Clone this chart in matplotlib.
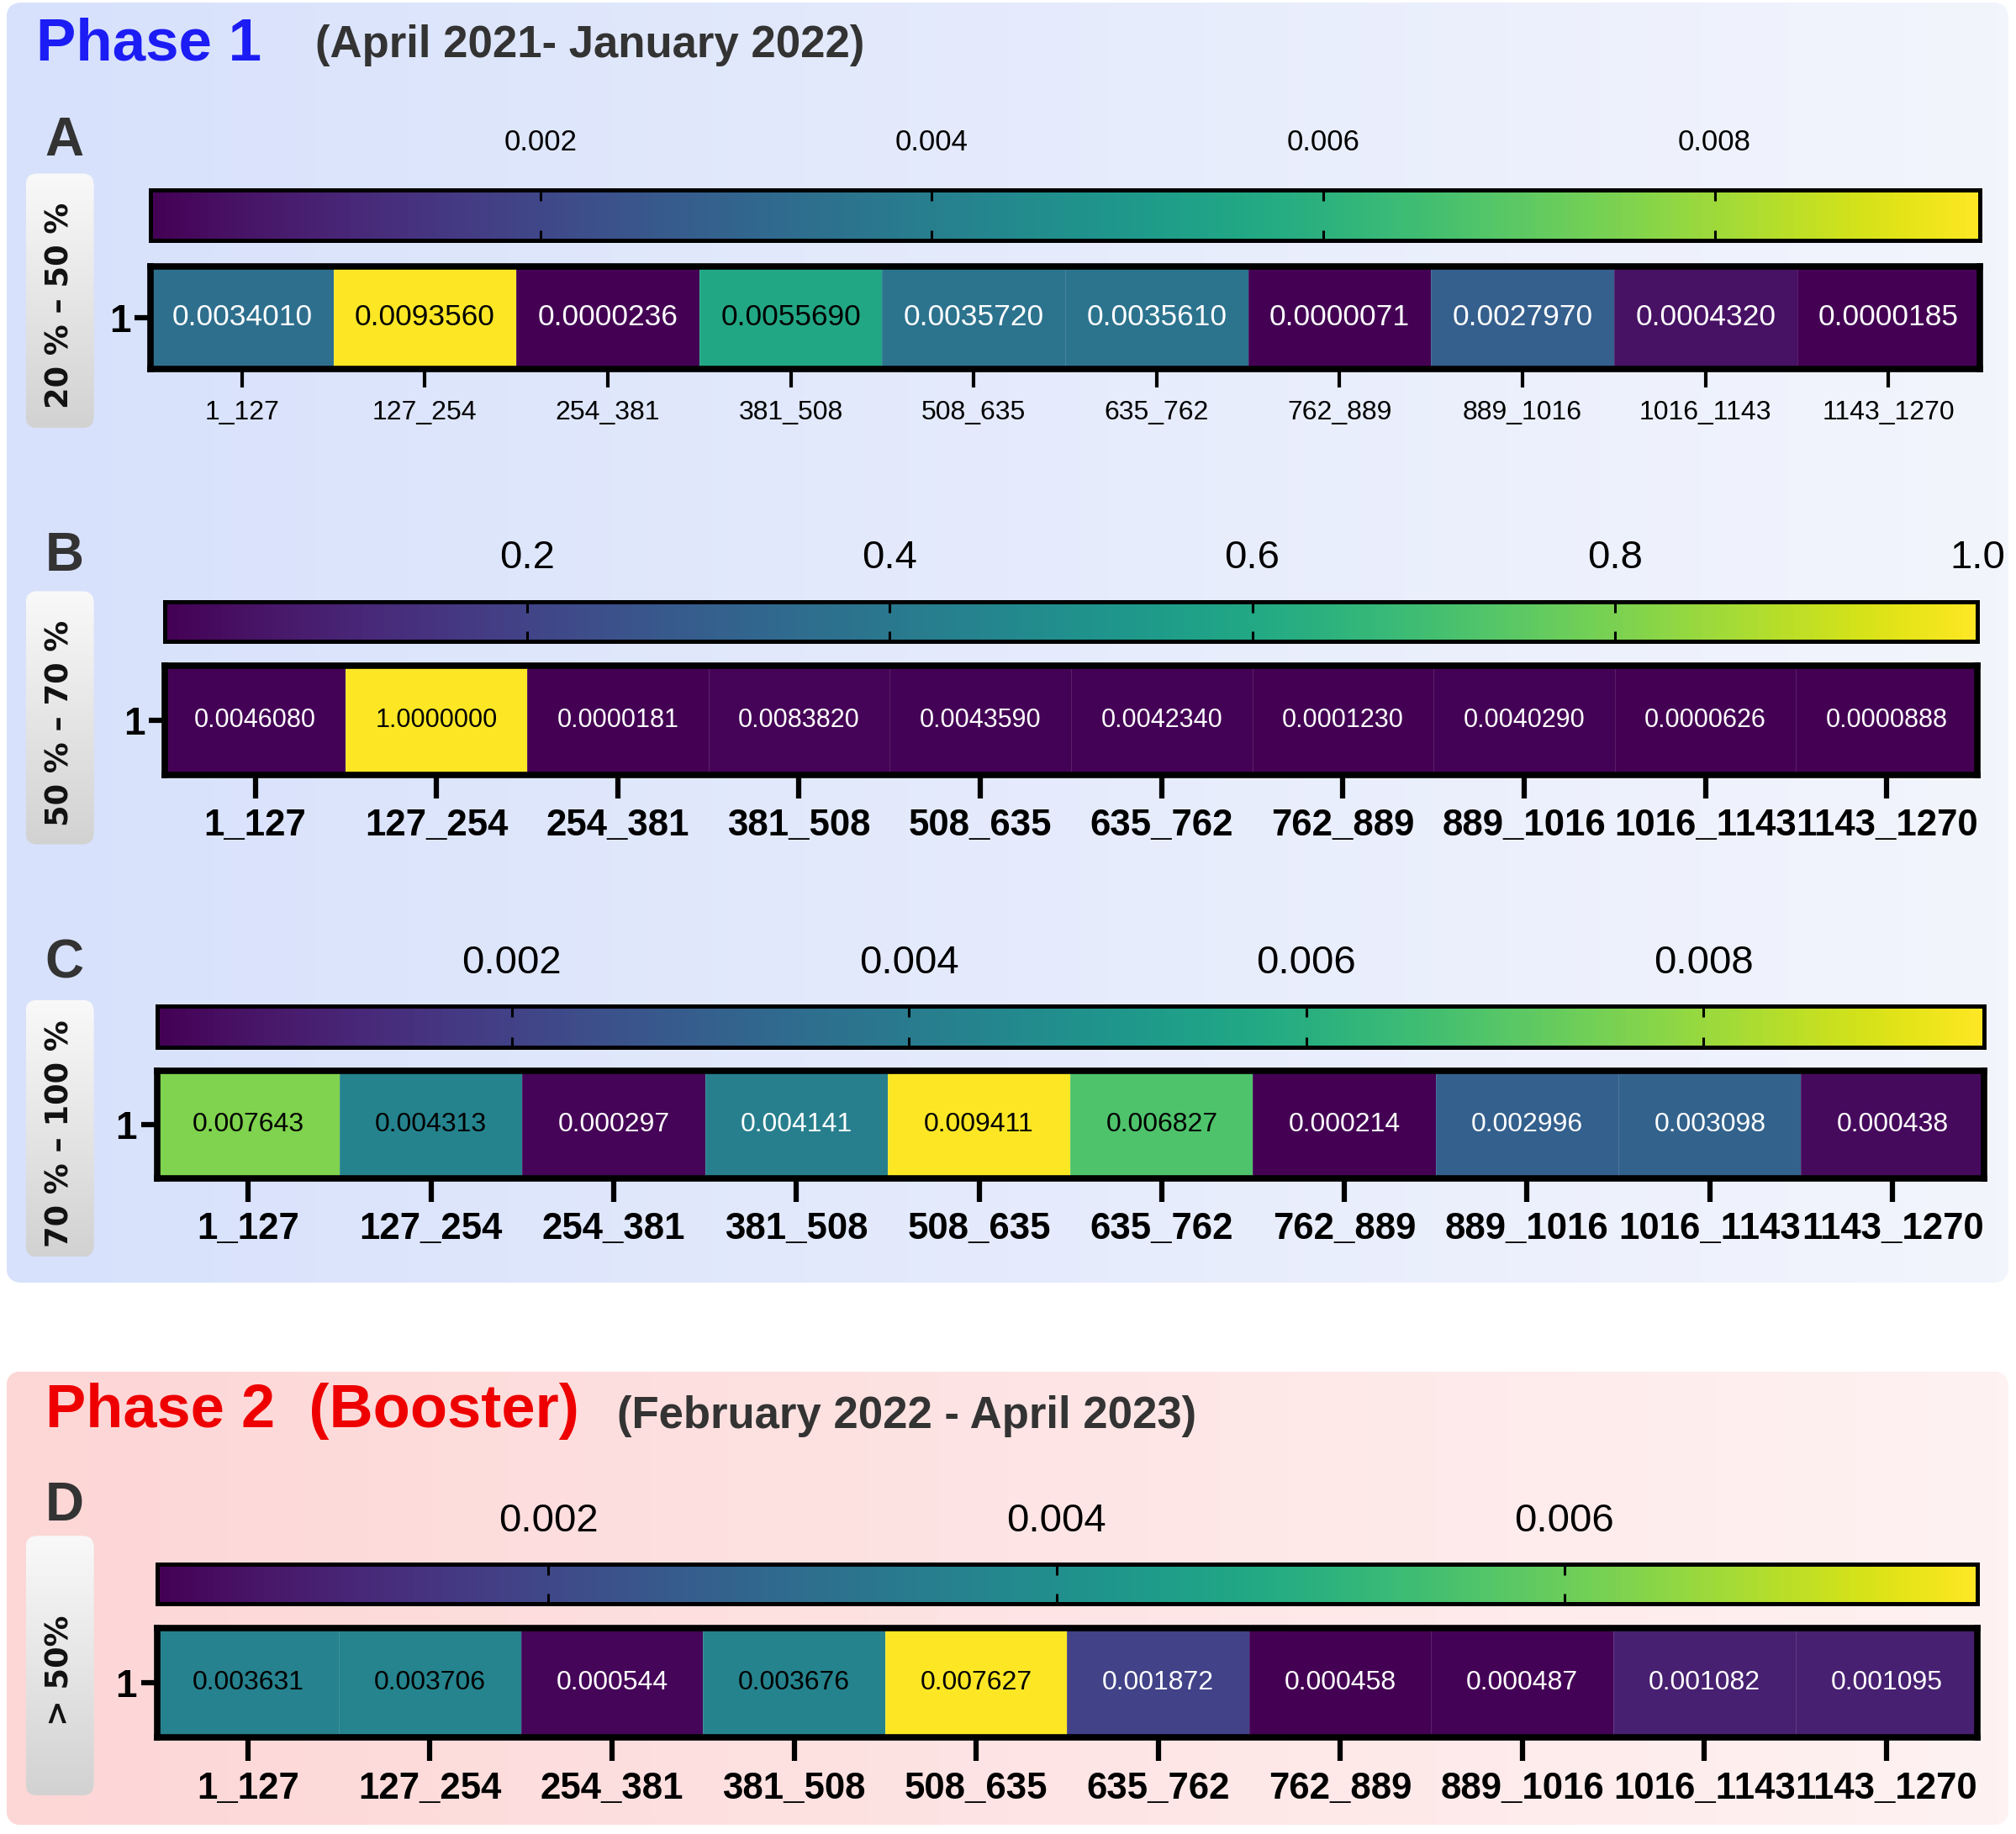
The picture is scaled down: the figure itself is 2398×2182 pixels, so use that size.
import numpy as np
import matplotlib
matplotlib.use("Agg")
from matplotlib import pyplot as plt
from matplotlib import font_manager
from matplotlib.colors import LinearSegmentedColormap
from matplotlib.patches import FancyBboxPatch
from matplotlib.ticker import FormatStrFormatter

bins = ['1_127', '127_254', '254_381', '381_508', '508_635',
        '635_762', '762_889', '889_1016', '1016_1143', '1143_1270']

vals_a = [0.0034010, 0.0093560, 0.0000236, 0.0055690, 0.0035720,
          0.0035610, 0.0000071, 0.0027970, 0.0004320, 0.0000185]
vals_b = [0.0046080, 1.0000000, 0.0000181, 0.0083820, 0.0043590,
          0.0042340, 0.0001230, 0.0040290, 0.0000626, 0.0000888]
vals_c = [0.007643, 0.004313, 0.000297, 0.004141, 0.009411,
          0.006827, 0.000214, 0.002996, 0.003098, 0.000438]
vals_d = [0.003631, 0.003706, 0.000544, 0.003676, 0.007627,
          0.001872, 0.000458, 0.000487, 0.001082, 0.001095]

ticks_a = [0.002, 0.004, 0.006, 0.008]
ticks_b = [0.2, 0.4, 0.6, 0.8, 1.0]
ticks_c = [0.002, 0.004, 0.006, 0.008]
ticks_d = [0.002, 0.004, 0.006]

group_labels = ['20 % \u2013 50 %', '50 % \u2013 70 %', '70 % \u2013 100 %', '> 50%']
panel_letters = ['A', 'B', 'C', 'D']

SANS = ['Liberation Sans', 'DejaVu Sans']
# panel A uses a narrow face; without one, plain Liberation Sans a bit smaller
have_narrow = any(f.name == 'Liberation Sans Narrow'
                  for f in font_manager.fontManager.ttflist)
if have_narrow:
    NARROW = ['Liberation Sans Narrow', 'Liberation Sans', 'DejaVu Sans']
    a_sizes = dict(annot=32, xlab=27, cbar=32)
else:
    NARROW = SANS
    a_sizes = dict(annot=25.5, xlab=23, cbar=25)

# layout measured on a 1568 x 1427 grid
GW, GH = 1568.0, 1427.0


def rect(x0, y0, x1, y1):
    return [x0 / GW, 1 - y1 / GH, (x1 - x0) / GW, (y1 - y0) / GH]


fig = plt.figure(figsize=(23.98, 21.82), dpi=100)
fig.patch.set_facecolor('white')


def gradient_box(x0, y0, x1, y1, c0, c1, horizontal, radius):
    ax = fig.add_axes(rect(x0, y0, x1, y1))
    w, h = x1 - x0, y1 - y0
    g = np.linspace(0, 1, 256)
    grad = g.reshape(1, -1) if horizontal else g.reshape(-1, 1)
    cmap = LinearSegmentedColormap.from_list('g', [c0, c1])
    im = ax.imshow(grad, extent=[0, w, 0, h], aspect='auto', cmap=cmap,
                   origin='lower', interpolation='bilinear')
    patch = FancyBboxPatch((0, 0), w, h,
                           boxstyle=f'round,pad=0,rounding_size={radius}',
                           facecolor='none', edgecolor='none',
                           transform=ax.transData)
    ax.add_patch(patch)
    im.set_clip_path(patch)
    ax.set_xlim(0, w)
    ax.set_ylim(0, h)
    ax.axis('off')
    return ax


# phase backgrounds
gradient_box(5, 2, 1562, 998, '#d7e1fb', '#f3f5fd', True, 12)
gradient_box(5, 1067, 1562, 1420, '#fdd6d6', '#fff2f2', True, 12)

# titles
fig.text(28 / GW, 1 - 35 / GH, 'Phase 1', color='#1c1cf5', fontsize=51,
         fontweight='bold', family=SANS, va='center', ha='left')
fig.text(245 / GW, 1 - 35 / GH, '(April 2021- January 2022)', color='#333333',
         fontsize=38, fontweight='bold', family=NARROW, va='center', ha='left')
fig.text(35 / GW, 1 - 1098 / GH, 'Phase 2  (Booster)', color='#ee0000', fontsize=52,
         fontweight='bold', family=SANS, va='center', ha='left')
fig.text(480 / GW, 1 - 1102 / GH, '(February 2022 - April 2023)', color='#333333',
         fontsize=38, fontweight='bold', family=NARROW, va='center', ha='left')

panels = [
    dict(vals=vals_a, ticks=ticks_a, fmt='%.7f', tfmt='%.3f',
         cbar=(117, 148, 1540, 187), heat=(117, 207, 1540, 287),
         letter_y=110, gray=(135, 333), style='a', pad=29),
    dict(vals=vals_b, ticks=ticks_b, fmt='%.7f', tfmt='%.1f',
         cbar=(128, 468, 1538, 499), heat=(128, 518, 1538, 603),
         letter_y=433, gray=(460, 657), style='b', pad=21),
    dict(vals=vals_c, ticks=ticks_c, fmt='%.6f', tfmt='%.3f',
         cbar=(122, 783, 1543, 815), heat=(122, 833, 1543, 917),
         letter_y=750, gray=(778, 978), style='b', pad=21),
    dict(vals=vals_d, ticks=ticks_d, fmt='%.6f', tfmt='%.3f',
         cbar=(122, 1217, 1538, 1248), heat=(122, 1267, 1538, 1352),
         letter_y=1172, gray=(1195, 1397), style='b', pad=21),
]

for p, letter, glabel in zip(panels, panel_letters, group_labels):
    vals = np.array(p['vals'])
    small = p['style'] == 'a'

    # grey side label
    gy0, gy1 = p['gray']
    gradient_box(20, gy0, 73, gy1, '#d2d2d2', '#f9f9f9', False, 9)
    fig.text(46.5 / GW, 1 - (gy0 + gy1 + 8) / 2 / GH, glabel, rotation=90,
             fontsize=26.5, fontweight='bold', family=['DejaVu Sans'],
             color='#111111', ha='center', va='center')

    fig.text(35 / GW, 1 - p['letter_y'] / GH, letter, fontsize=46,
             fontweight='bold', family=SANS, color='#333333',
             ha='left', va='center')

    # heatmap
    ax = fig.add_axes(rect(*p['heat']))
    mesh = ax.pcolormesh(vals.reshape(1, -1), cmap='viridis',
                         vmin=vals.min(), vmax=vals.max(),
                         edgecolors=(1, 1, 1, 0.12), linewidth=0.6)
    ax.set_xlim(0, len(vals))
    ax.set_ylim(0, 1)
    ax.set_xticks(np.arange(len(vals)) + 0.5)
    ax.set_yticks([0.5])
    ax.set_yticklabels(['1'])
    for s in ax.spines.values():
        s.set_linewidth(5.5)
    if small:
        ax.set_xticklabels(bins, family=NARROW, fontsize=a_sizes['xlab'])
        ax.tick_params(axis='x', length=16, width=3, pad=11)
        annot_size, annot_family = a_sizes['annot'], NARROW
    else:
        ax.set_xticklabels(bins, family=SANS, fontsize=31.5, fontweight='bold')
        ax.tick_params(axis='x', length=20, width=4.5, pad=9)
        annot_size, annot_family = 22 if letter == 'B' else 23, SANS
    for lab in ax.get_yticklabels():
        lab.set_fontsize(33)
        lab.set_fontweight('bold')
        lab.set_family(SANS)
    ax.tick_params(axis='y', length=14, width=4.5, pad=3)

    thr = 0.45 * vals.max()
    for i, v in enumerate(vals):
        ax.text(i + 0.5, 0.5, p['fmt'] % v, ha='center', va='center',
                fontsize=annot_size, family=annot_family,
                color='black' if v >= thr else 'white')

    # colorbar
    cax = fig.add_axes(rect(*p['cbar']))
    cb = fig.colorbar(mesh, cax=cax, orientation='horizontal')
    cb.set_ticks(p['ticks'])
    cax.xaxis.set_major_formatter(FormatStrFormatter(p['tfmt']))
    cb.outline.set_linewidth(3.6)
    cax.xaxis.set_ticks_position('both')
    cax.tick_params(axis='x', which='major', direction='in', length=9, width=2.2,
                    top=True, bottom=True, labeltop=True, labelbottom=False,
                    pad=p['pad'])
    cax.tick_params(axis='x', which='minor', length=0)
    for lab in cax.get_xticklabels():
        lab.set_fontsize(a_sizes['cbar'] if small else 34)
        lab.set_family(NARROW if small else SANS)

fig.savefig('out.png', dpi=100)
